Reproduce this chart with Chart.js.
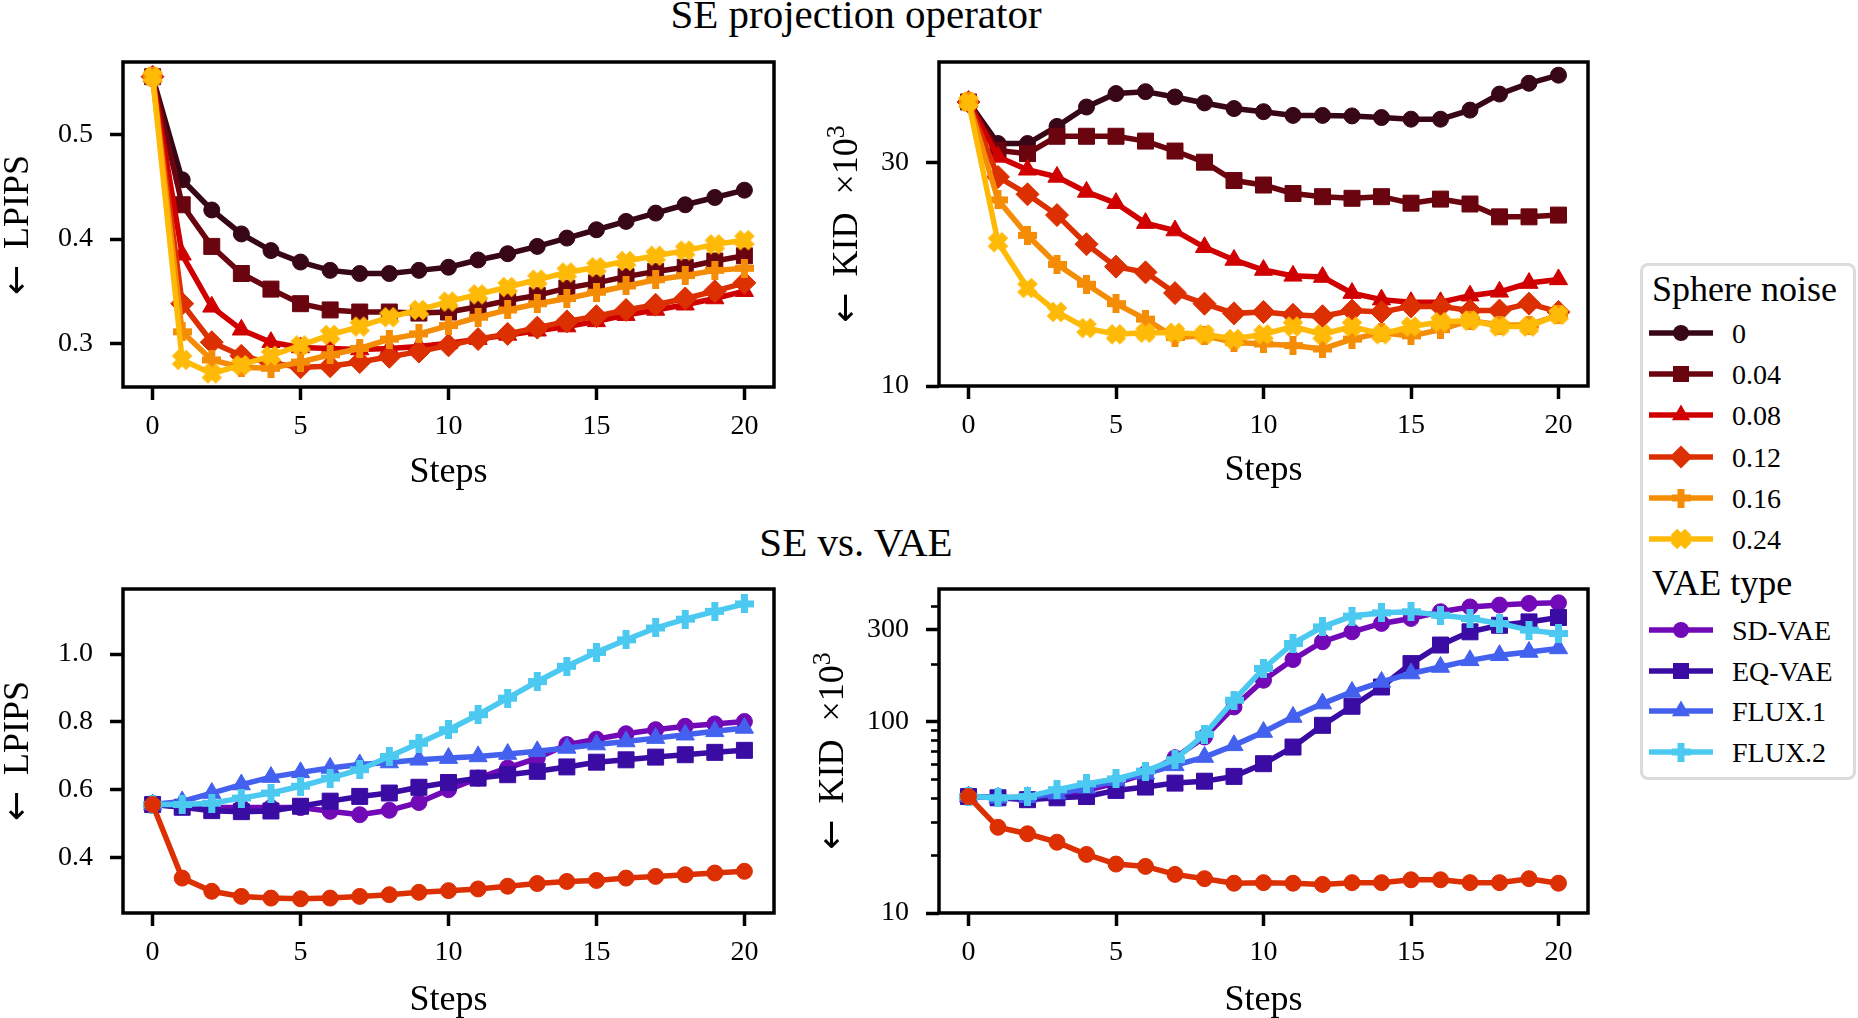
<!DOCTYPE html>
<html><head><meta charset="utf-8">
<script src="https://cdn.jsdelivr.net/npm/chart.js@4.4.1/dist/chart.umd.min.js"></script>
<style>
html,body{margin:0;padding:0;background:#fff;}
body{width:1858px;height:1018px;position:relative;overflow:hidden;font-family:"Liberation Serif","DejaVu Serif",serif;color:#000;}
canvas{position:absolute;}
.t{position:absolute;white-space:nowrap;color:#000;}
.yl{position:absolute;width:400px;height:36px;font-size:36px;line-height:36px;text-align:center;white-space:nowrap;transform:rotate(-90deg);transform-origin:50% 50%;}
.arr{font-family:"DejaVu Sans",sans-serif;margin-right:7px;}
.sup{font-size:0.72em;position:relative;top:-0.5em;}
#legendBox{position:absolute;left:1640px;top:263px;width:216px;height:517px;box-sizing:border-box;border:3px solid #dcdcdc;border-radius:8px;}
</style></head><body>
<div class="t" style="left:0;width:1712px;text-align:center;top:-6px;font-size:41px;line-height:41px;">SE projection operator</div>
<div class="t" style="left:0;width:1712px;text-align:center;top:522px;font-size:41px;line-height:41px;">SE vs. VAE</div>
<canvas id="c1"></canvas><canvas id="c2"></canvas><canvas id="c3"></canvas><canvas id="c4"></canvas>
<div class="yl" style="left:-184.5px;top:206.5px;"><span class="arr">←</span> LPIPS</div>
<div class="yl" style="left:645px;top:206px;"><span class="arr">←</span> KID&nbsp; ×10<span class="sup">3</span></div>
<div class="yl" style="left:-184.5px;top:733px;"><span class="arr">←</span> LPIPS</div>
<div class="yl" style="left:631px;top:733px;"><span class="arr">←</span> KID&nbsp; ×10<span class="sup">3</span></div>
<div id="legendBox"></div>
<script>
// ---------------- data ----------------
const steps = [0,1,2,3,4,5,6,7,8,9,10,11,12,13,14,15,16,17,18,19,20];
const xTicks = [0,5,10,15,20];

const noiseLabels = ['0','0.04','0.08','0.12','0.16','0.24'];
const vaeLabels = ['SD-VAE','EQ-VAE','FLUX.1','FLUX.2'];

// top-left: LPIPS vs steps per sphere noise
const lpipsN000 = [0.556,0.457,0.428,0.405,0.389,0.378,0.370,0.367,0.367,0.370,0.373,0.380,0.386,0.393,0.401,0.409,0.417,0.425,0.433,0.440,0.447];
const lpipsN004 = [0.556,0.433,0.393,0.367,0.352,0.338,0.332,0.330,0.330,0.329,0.330,0.335,0.341,0.346,0.353,0.358,0.364,0.369,0.373,0.379,0.384];
const lpipsN008 = [0.556,0.385,0.335,0.313,0.301,0.296,0.295,0.294,0.295,0.297,0.300,0.304,0.308,0.312,0.316,0.321,0.327,0.332,0.337,0.343,0.350];
const lpipsN012 = [0.556,0.338,0.301,0.288,0.281,0.277,0.278,0.282,0.287,0.292,0.298,0.304,0.309,0.315,0.321,0.326,0.332,0.337,0.343,0.350,0.358];
const lpipsN016 = [0.556,0.311,0.284,0.277,0.276,0.282,0.289,0.295,0.304,0.309,0.317,0.325,0.332,0.338,0.343,0.349,0.355,0.361,0.365,0.370,0.372];
const lpipsN024 = [0.556,0.284,0.271,0.279,0.288,0.298,0.308,0.316,0.325,0.332,0.340,0.347,0.354,0.361,0.368,0.373,0.379,0.384,0.389,0.395,0.399];

// top-right: KID x10^3 per sphere noise
const kidN000 = [40.5,33.0,33.0,35.9,39.5,42.2,42.6,41.5,40.3,39.2,38.6,37.9,37.9,37.8,37.5,37.2,37.2,38.9,42.1,44.4,46.2];
const kidN004 = [40.5,31.9,31.4,34.2,34.2,34.2,33.4,31.8,30.1,27.5,26.9,25.8,25.4,25.2,25.4,24.6,25.1,24.5,23.0,23.0,23.2];
const kidN008 = [40.5,30.9,29.0,28.0,26.0,24.6,22.3,21.5,19.8,18.6,17.7,17.2,17.1,15.8,15.3,15.1,15.1,15.6,15.9,16.6,16.9];
const kidN012 = [40.5,28.0,25.7,23.2,20.1,18.0,17.5,15.8,15.0,14.3,14.4,14.2,14.1,14.5,14.4,14.8,14.8,14.5,14.5,15.0,14.4];
const kidN016 = [40.5,25.0,21.0,18.2,16.5,15.0,13.9,12.7,12.8,12.4,12.3,12.2,12.0,12.6,13.0,12.8,13.2,13.8,13.5,13.5,14.2];
const kidN024 = [40.5,20.3,16.2,14.4,13.3,12.9,13.0,13.0,12.9,12.6,12.9,13.4,12.9,13.4,12.9,13.4,13.7,13.8,13.4,13.4,14.2];

// bottom-left: LPIPS, SE vs VAE types
const lpipsSE   = [0.556,0.339,0.300,0.285,0.280,0.278,0.280,0.285,0.290,0.297,0.302,0.307,0.315,0.323,0.329,0.332,0.339,0.344,0.349,0.354,0.359];
const lpipsSD   = [0.556,0.551,0.548,0.547,0.547,0.547,0.536,0.526,0.539,0.562,0.600,0.634,0.664,0.693,0.733,0.749,0.765,0.777,0.787,0.794,0.801];
const lpipsEQ   = [0.556,0.548,0.538,0.535,0.537,0.551,0.566,0.580,0.590,0.607,0.621,0.634,0.644,0.654,0.667,0.681,0.688,0.696,0.703,0.710,0.716];
const lpipsFL1  = [0.556,0.565,0.590,0.615,0.637,0.651,0.664,0.674,0.680,0.688,0.693,0.698,0.705,0.713,0.723,0.733,0.742,0.752,0.762,0.772,0.782];
const lpipsFL2  = [0.556,0.556,0.560,0.575,0.590,0.610,0.634,0.659,0.698,0.737,0.777,0.821,0.870,0.919,0.964,1.005,1.042,1.077,1.103,1.126,1.148];

// bottom-right: KID x10^3, SE vs VAE types
const kidSE  = [40.5,28.0,25.9,23.4,20.2,18.0,17.5,15.9,15.1,14.3,14.4,14.3,14.1,14.4,14.4,14.9,14.9,14.4,14.4,15.1,14.3];
const kidSD  = [40.5,39.9,39.4,41.0,43.6,47.6,53.3,64.6,82.8,118.8,163.8,210,260,293,324,344,373,395,404,412,415];
const kidEQ  = [40.5,39.9,39.0,39.9,40.5,43.6,45.4,47.6,48.7,51.6,60.1,73.4,95.3,119.8,151,200,250,293,317,330,348];
const kidFL1 = [40.5,39.9,40.2,41.9,45.0,49.2,53.3,58.9,65.1,74.9,87.9,105.3,123.7,142.3,160.5,177.5,192,208,221,230,240];
const kidFL2 = [40.5,39.9,40.5,44.0,47.2,50.1,55.0,63.1,85.5,128.8,188.6,254.6,311,354,368,373,358,344,324,299,287];

// tick values / labels
const lpipsTopTicks = [0.3,0.4,0.5];
const lpipsTopTickLabels = ['0.3','0.4','0.5'];
const kidTopTicks = [10,30];
const kidTopTickLabels = ['10','30'];
const lpipsBotTicks = [0.4,0.6,0.8,1.0];
const lpipsBotTickLabels = ['0.4','0.6','0.8','1.0'];
const kidBotTicks = [10,100,300];
const kidBotTickLabels = ['10','100','300'];
const kidBotMinorTicks = [20,30,40,50,60,70,80,90,200,400];

// ---------------- styles ----------------
const FONT = '"Liberation Serif", "DejaVu Serif", serif';
const noiseColors = ['#370617','#6a040f','#d00000','#dc2f02','#f48c06','#ffba08'];
const noiseMarkers = ['circle','rect','triangle','rectRot','plus','xfill'];
const vaeColors = ['#7209b7','#3a0ca3','#4361ee','#4cc9f0'];
const vaeMarkers = ['circle','rect','triangle','plus'];
const seColor = '#dc2f02';
const LW = 5.5;

function plusImg(color){
  const s=19, a=7, c=document.createElement('canvas'); c.width=s; c.height=s;
  const g=c.getContext('2d'); g.fillStyle=color;
  g.fillRect((s-a)/2,0,a,s); g.fillRect(0,(s-a)/2,s,a); return c;
}
function xImg(color){
  const s=22, L=20, w=9, c=document.createElement('canvas'); c.width=s; c.height=s;
  const g=c.getContext('2d'); g.fillStyle=color; g.translate(s/2,s/2); g.rotate(Math.PI/4);
  g.fillRect(-L/2,-w/2,L,w); g.fillRect(-w/2,-L/2,w,L); return c;
}
const markerRadius = {circle:8, rect:11.3, triangle:10.5, rectRot:11.5, plus:9, xfill:10};
function pointStyleFor(m,color){
  if(m==='plus') return plusImg(color);
  if(m==='xfill') return xImg(color);
  return m;
}
function ds(label, vals, color, marker, order){
  return {
    label, data: steps.map((s,i)=>({x:s,y:vals[i]})),
    borderColor:color, backgroundColor:color, borderWidth:LW,
    pointStyle: pointStyleFor(marker,color), pointRadius: markerRadius[marker],
    pointBackgroundColor:color, pointBorderColor:color, pointBorderWidth:1,
    tension:0, fill:false, order
  };
}

const framePlugin = {
  id:'frame',
  afterDatasetsDraw(chart){
    const {ctx, chartArea:a} = chart;
    ctx.save(); ctx.strokeStyle='#000'; ctx.lineWidth=3.5;
    ctx.strokeRect(a.left, a.top, a.right-a.left, a.bottom-a.top);
    ctx.restore();
  }
};
function minorTickPlugin(values){
  return {
    id:'minorTicks',
    afterDraw(chart){
      const {ctx, chartArea:a} = chart; const sc = chart.scales.y;
      ctx.save(); ctx.strokeStyle='#000'; ctx.lineWidth=2.6;
      values.forEach(v=>{
        const y = Math.round(sc.getPixelForValue(v))+0.5;
        ctx.beginPath(); ctx.moveTo(a.left-8, y); ctx.lineTo(a.left, y); ctx.stroke();
      });
      ctx.restore();
    }
  };
}

const PAD_TOP = 45, PAD_RIGHT = 20, Y_W = 133, X_H = 110;
function makeChart(id, plot, datasets, y, extraPlugins){
  const cv = document.getElementById(id);
  const W = Y_W + plot.w + PAD_RIGHT, H = PAD_TOP + plot.h + X_H;
  cv.width = W; cv.height = H;
  cv.style.width = W+'px'; cv.style.height = H+'px';
  cv.style.left = (plot.left - Y_W)+'px'; cv.style.top = (plot.top - PAD_TOP)+'px';
  return new Chart(cv.getContext('2d'), {
    type:'line',
    data:{datasets},
    options:{
      responsive:false, animation:false, events:[], devicePixelRatio:1,
      layout:{padding:{top:PAD_TOP,right:PAD_RIGHT,left:0,bottom:0}, autoPadding:false},
      plugins:{legend:{display:false}, tooltip:{enabled:false}, title:{display:false}},
      scales:{
        x:{
          type:'linear', min:-1, max:21,
          afterBuildTicks:s=>{ s.ticks = xTicks.map(v=>({value:v})); },
          afterFit:s=>{ s.height = X_H; },
          grid:{drawOnChartArea:false, drawTicks:true, tickLength:13, tickWidth:3.5, tickColor:'#000'},
          border:{display:false},
          ticks:{color:'#000', font:{family:FONT, size:28}, padding:10, maxRotation:0, autoSkip:false,
                 callback:(v)=>String(v)},
          title:{display:true, text:'Steps', color:'#000', font:{family:FONT, size:36}, padding:{top:0, bottom:plot.xtPad}}
        },
        y:{
          type:y.type, min:y.min, max:y.max,
          afterBuildTicks:s=>{ s.ticks = y.ticks.map(v=>({value:v})); },
          afterFit:s=>{ s.width = Y_W; },
          grid:{drawOnChartArea:false, drawTicks:true, tickLength:13, tickWidth:3.5, tickColor:'#000'},
          border:{display:false},
          ticks:{color:'#000', font:{family:FONT, size:28}, padding:17, autoSkip:false,
                 callback:(v,i)=>y.labels[i]},
          title:{display:false}
        }
      }
    },
    plugins:[framePlugin].concat(extraPlugins||[])
  });
}

// panel 1
const n1 = [lpipsN000,lpipsN004,lpipsN008,lpipsN012,lpipsN016,lpipsN024];
makeChart('c1', {left:123, top:62, w:651, h:325, xtPad:3},
  n1.map((v,i)=>ds(noiseLabels[i], v, noiseColors[i], noiseMarkers[i], 10-i)),
  {type:'linear', min:0.258, max:0.5701, ticks:lpipsTopTicks, labels:lpipsTopTickLabels});

// panel 2
const n2 = [kidN000,kidN004,kidN008,kidN012,kidN016,kidN024];
makeChart('c2', {left:939, top:62, w:649, h:324, xtPad:4},
  n2.map((v,i)=>ds(noiseLabels[i], v, noiseColors[i], noiseMarkers[i], 10-i)),
  {type:'logarithmic', min:10, max:49.3, ticks:kidTopTicks, labels:kidTopTickLabels});

// panel 3
const v3 = [lpipsSD,lpipsEQ,lpipsFL1,lpipsFL2];
makeChart('c3', {left:123, top:589, w:651, h:324, xtPad:1},
  v3.map((v,i)=>ds(vaeLabels[i], v, vaeColors[i], vaeMarkers[i], 10-i)).concat([ds('SE', lpipsSE, seColor, 'circle', 1)]),
  {type:'linear', min:0.236, max:1.192, ticks:lpipsBotTicks, labels:lpipsBotTickLabels});

// panel 4
const v4 = [kidSD,kidEQ,kidFL1,kidFL2];
makeChart('c4', {left:939, top:589, w:649, h:324, xtPad:1},
  v4.map((v,i)=>ds(vaeLabels[i], v, vaeColors[i], vaeMarkers[i], 10-i)).concat([ds('SE', kidSE, seColor, 'circle', 1)]),
  {type:'logarithmic', min:10, max:490, ticks:kidBotTicks, labels:kidBotTickLabels},
  [minorTickPlugin(kidBotMinorTicks)]);

// ---------------- legend ----------------
function drawMarker(g, m, x, y, color){
  g.fillStyle = color;
  const r = markerRadius[m];
  if(m==='circle'){ g.beginPath(); g.arc(x,y,r,0,Math.PI*2); g.fill(); }
  else if(m==='rect'){ const s=r*Math.SQRT1_2; g.fillRect(x-s,y-s,2*s,2*s); }
  else if(m==='triangle'){ g.beginPath(); for(let k=0;k<3;k++){const a=k*2*Math.PI/3; g.lineTo(x+Math.sin(a)*r, y-Math.cos(a)*r);} g.closePath(); g.fill(); }
  else if(m==='rectRot'){ g.beginPath(); g.moveTo(x,y-r); g.lineTo(x+r,y); g.lineTo(x,y+r); g.lineTo(x-r,y); g.closePath(); g.fill(); }
  else { const img = pointStyleFor(m,color); g.drawImage(img, x-img.width/2, y-img.height/2); }
}
function legendEntry(label, color, marker, cy){
  const c = document.createElement('canvas'); c.width=72; c.height=30;
  c.style.left='1645px'; c.style.top=(cy-1-15)+'px';
  document.body.appendChild(c);
  const g = c.getContext('2d');
  g.strokeStyle=color; g.lineWidth=LW; g.beginPath(); g.moveTo(4,15); g.lineTo(68,15); g.stroke();
  drawMarker(g, marker, 36, 15, color);
  const d = document.createElement('div'); d.className='t';
  d.style.cssText='left:1732px;top:'+(cy-14)+'px;font-size:28px;line-height:28px;';
  d.textContent = label; document.body.appendChild(d);
}
function legendTitle(text, capCenter){
  const d = document.createElement('div'); d.className='t';
  d.style.cssText='left:1652px;top:'+(capCenter-18.3)+'px;font-size:36px;line-height:36px;';
  d.textContent = text; document.body.appendChild(d);
}
legendTitle('Sphere noise', 289);
noiseLabels.forEach((l,i)=>legendEntry(l, noiseColors[i], noiseMarkers[i], 334 + 41.2*i));
legendTitle('VAE type', 583);
vaeLabels.forEach((l,i)=>legendEntry(l, vaeColors[i], vaeMarkers[i], 631 + 40.7*i));
</script>
</body></html>
